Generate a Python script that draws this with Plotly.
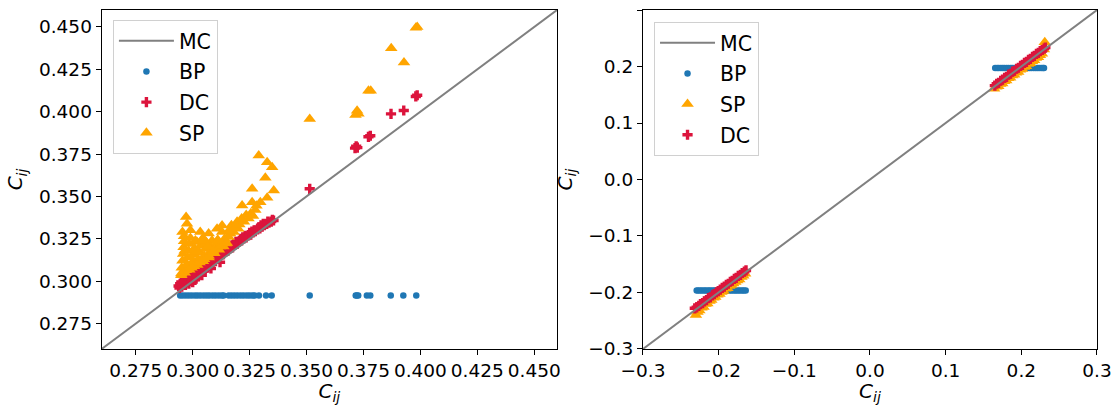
import plotly.graph_objects as go

# ---------------- left panel: BP / DC / SP against MC ----------------
mc_left = [0.26, 0.46]

bp_left_x = [0.2945, 0.2957, 0.2970, 0.2983, 0.2996, 0.3010, 0.3022, 0.3035, 0.3049,
             0.3062, 0.3074, 0.3088, 0.3101, 0.3115, 0.3128, 0.3136, 0.3158, 0.3171,
             0.3184, 0.3197, 0.3211, 0.3224, 0.3238, 0.3250, 0.3263, 0.3272, 0.3291,
             0.3322, 0.3347, 0.3514, 0.3716, 0.3721, 0.3727, 0.3765, 0.3780, 0.3870,
             0.3925, 0.3982]
bp_left_y = [0.2915, 0.2915, 0.2915, 0.2915, 0.2915, 0.2915, 0.2915, 0.2915, 0.2915,
             0.2915, 0.2915, 0.2915, 0.2915, 0.2915, 0.2915, 0.2915, 0.2915, 0.2915,
             0.2915, 0.2915, 0.2915, 0.2915, 0.2915, 0.2915, 0.2915, 0.2915, 0.2915,
             0.2915, 0.2915, 0.2915, 0.2915, 0.2915, 0.2915, 0.2915, 0.2915, 0.2915,
             0.2915, 0.2915]

dc_left_x = [0.2938, 0.2945, 0.2952, 0.2960, 0.2968, 0.2975, 0.2983, 0.2992, 0.3000,
             0.3008, 0.3010, 0.3020, 0.3028, 0.3035, 0.3045, 0.3055, 0.3065, 0.3072,
             0.3080, 0.3090, 0.3100, 0.3110, 0.3118, 0.3125, 0.3135, 0.3145, 0.3155,
             0.3165, 0.3175, 0.3185, 0.3195, 0.3205, 0.3215, 0.3225, 0.3235, 0.3245,
             0.3255, 0.3265, 0.3275, 0.3285, 0.3295, 0.3305, 0.3315, 0.3325, 0.3335,
             0.3345, 0.3355,
             0.2942, 0.2950, 0.2965, 0.2980, 0.2995, 0.3015, 0.3040, 0.3060, 0.3085,
             0.3105, 0.3130, 0.3150, 0.3170, 0.3190, 0.3210, 0.3230, 0.3250, 0.3270,
             0.3290, 0.3310, 0.3330, 0.3350, 0.3040, 0.3080, 0.3120,
             0.3005, 0.3025, 0.3050, 0.3075, 0.3100, 0.3140, 0.3180, 0.3220, 0.3260,
             0.3300,
             0.3514, 0.3713, 0.3718, 0.3723, 0.3772, 0.3780, 0.3871,
             0.3927, 0.3980, 0.3986]
dc_left_y = [0.2972, 0.2985, 0.2968, 0.2990, 0.2978, 0.2996, 0.2985, 0.3003, 0.2995,
             0.3025, 0.3008, 0.3030, 0.3040, 0.3052, 0.3060, 0.3072, 0.3080, 0.3095,
             0.3100, 0.3115, 0.3118, 0.3135, 0.3140, 0.3158, 0.3160, 0.3175, 0.3180,
             0.3195, 0.3200, 0.3215, 0.3220, 0.3235, 0.3240, 0.3252, 0.3258, 0.3270,
             0.3275, 0.3288, 0.3295, 0.3305, 0.3312, 0.3322, 0.3330, 0.3338, 0.3345,
             0.3352, 0.3358,
             0.2960, 0.2995, 0.3002, 0.3012, 0.3015, 0.3042, 0.3068, 0.3090, 0.3125,
             0.3140, 0.3168, 0.3190, 0.3210, 0.3232, 0.3250, 0.3268, 0.3285, 0.3300,
             0.3318, 0.3338, 0.3352, 0.3362, 0.3035, 0.3075, 0.3112,
             0.3045, 0.3068, 0.3090, 0.3115, 0.3140, 0.3178, 0.3220, 0.3258, 0.3292,
             0.3330,
             0.3545, 0.3785, 0.3796, 0.3788, 0.3852, 0.3858, 0.3987,
             0.4007, 0.4090, 0.4097]

sp_left_x = [0.2971, 0.2975, 0.2955, 0.2962, 0.2990, 0.3019, 0.3033, 0.3045, 0.3070,
             0.3085, 0.3107, 0.3129, 0.3129, 0.3140, 0.3158,
             0.2950, 0.2952, 0.2955, 0.2958, 0.2960, 0.2962, 0.2970, 0.2975, 0.2978,
             0.2982, 0.2985, 0.2990, 0.2995, 0.3000, 0.3003, 0.3008, 0.3012, 0.3020,
             0.3025, 0.3030, 0.3035, 0.3045, 0.3050, 0.3055, 0.3060, 0.3070, 0.3075,
             0.3080, 0.3095, 0.3100, 0.3105, 0.3115, 0.3120, 0.3135, 0.3145,
             0.2950, 0.2965, 0.2985, 0.3005, 0.3030, 0.3050, 0.3070, 0.3090, 0.3110,
             0.3130, 0.2965, 0.2990, 0.3015, 0.3040, 0.3065, 0.3090, 0.3110, 0.3150,
             0.3165, 0.3180, 0.3200,
             0.3160, 0.3170, 0.3185, 0.3195, 0.3205, 0.3215, 0.3225, 0.3235, 0.3245,
             0.3255, 0.3265, 0.3275, 0.3280,
             0.3217, 0.3261, 0.3297, 0.3327, 0.3261, 0.3356, 0.3319, 0.3349, 0.3327,
             0.3290,
             0.3514, 0.3715, 0.3722, 0.3728, 0.3772, 0.3782, 0.3872, 0.3928, 0.3980,
             0.3986]
sp_left_y = [0.3378, 0.3339, 0.3290, 0.3265, 0.3300, 0.3231, 0.3290, 0.3255, 0.3281,
             0.3240, 0.3310, 0.3329, 0.3290, 0.3250, 0.3261,
             0.3045, 0.3080, 0.3120, 0.3160, 0.3200, 0.3235, 0.3065, 0.3100, 0.3140,
             0.3180, 0.3220, 0.3255, 0.3080, 0.3115, 0.3155, 0.3195, 0.3240, 0.3095,
             0.3130, 0.3170, 0.3210, 0.3118, 0.3150, 0.3190, 0.3230, 0.3140, 0.3170,
             0.3205, 0.3165, 0.3190, 0.3225, 0.3185, 0.3205, 0.3205, 0.3222,
             0.3035, 0.3050, 0.3068, 0.3088, 0.3110, 0.3130, 0.3150, 0.3170, 0.3190,
             0.3210, 0.3180, 0.3140, 0.3175, 0.3240, 0.3205, 0.3180, 0.3245, 0.3225,
             0.3280, 0.3290, 0.3310,
             0.3300, 0.3330, 0.3315, 0.3350, 0.3335, 0.3370, 0.3350, 0.3390, 0.3370,
             0.3400, 0.3385, 0.3420, 0.3445,
             0.3447, 0.3466, 0.3466, 0.3492, 0.3545, 0.3535, 0.3610, 0.3672, 0.3702,
             0.3741,
             0.3957, 0.3980, 0.4005, 0.3988, 0.4124, 0.4124, 0.4375, 0.4290, 0.4496,
             0.4500]

# ---------------- right panel: two clusters around +/-0.2 ----------------
mc_right = [-0.3, 0.3]

bp_right_x = [-0.2290, -0.2268, -0.2242, -0.2218, -0.2190, -0.2168, -0.2140, -0.2118,
              -0.2092, -0.2065, -0.2042, -0.2018, -0.1990, -0.1968, -0.1942, -0.1918,
              -0.1890, -0.1868, -0.1842, -0.1818, -0.1790, -0.1768, -0.1742, -0.1718,
              -0.1690, -0.1668, -0.1642,
              0.1655, 0.1680, 0.1702, 0.1730, 0.1755, 0.1778, 0.1805, 0.1830, 0.1858,
              0.1880, 0.1905, 0.1932, 0.1955, 0.1982, 0.2008, 0.2030, 0.2058, 0.2082,
              0.2108, 0.2132, 0.2160, 0.2185, 0.2210, 0.2235, 0.2262, 0.2285, 0.2300]
bp_right_y = [-0.1965, -0.1965, -0.1965, -0.1965, -0.1965, -0.1965, -0.1965, -0.1965,
              -0.1965, -0.1965, -0.1965, -0.1965, -0.1965, -0.1965, -0.1965, -0.1965,
              -0.1965, -0.1965, -0.1965, -0.1965, -0.1965, -0.1965, -0.1965, -0.1965,
              -0.1965, -0.1965, -0.1965,
              0.1973, 0.1973, 0.1973, 0.1973, 0.1973, 0.1973, 0.1973, 0.1973, 0.1973,
              0.1973, 0.1973, 0.1973, 0.1973, 0.1973, 0.1973, 0.1973, 0.1973, 0.1973,
              0.1973, 0.1973, 0.1973, 0.1973, 0.1973, 0.1973, 0.1973, 0.1973, 0.1973]

sp_right_x = [-0.2300, -0.2280, -0.2255, -0.2228, -0.2200, -0.2175, -0.2150, -0.2122,
              -0.2098, -0.2070, -0.2045, -0.2018, -0.1990, -0.1965, -0.1938, -0.1912,
              -0.1885, -0.1860, -0.1832, -0.1808, -0.1780, -0.1755, -0.1728, -0.1700,
              -0.1675, -0.1650,
              0.1640, 0.1668, 0.1695, 0.1720, 0.1748, 0.1772, 0.1800, 0.1825, 0.1852,
              0.1878, 0.1905, 0.1930, 0.1958, 0.1982, 0.2010, 0.2035, 0.2062, 0.2088,
              0.2115, 0.2140, 0.2168, 0.2192, 0.2220, 0.2245, 0.2272, 0.2298, 0.2310]
sp_right_y = [-0.2400, -0.2345, -0.2320, -0.2270, -0.2255, -0.2205, -0.2195, -0.2150,
              -0.2135, -0.2095, -0.2080, -0.2040, -0.2025, -0.1990, -0.1975, -0.1935,
              -0.1925, -0.1885, -0.1868, -0.1840, -0.1815, -0.1790, -0.1770, -0.1728,
              -0.1705, -0.1670,
              0.1605, 0.1640, 0.1652, 0.1690, 0.1700, 0.1738, 0.1752, 0.1790, 0.1800,
              0.1840, 0.1855, 0.1890, 0.1902, 0.1942, 0.1955, 0.1990, 0.2005, 0.2045,
              0.2058, 0.2095, 0.2110, 0.2150, 0.2165, 0.2200, 0.2225, 0.2300, 0.2430]

dc_right_x = [-0.2315, -0.2290, -0.2262, -0.2240, -0.2212, -0.2188, -0.2160, -0.2135,
              -0.2110, -0.2082, -0.2058, -0.2030, -0.2005, -0.1978, -0.1952, -0.1925,
              -0.1898, -0.1872, -0.1845, -0.1820, -0.1792, -0.1768, -0.1740, -0.1712,
              -0.1688, -0.1660, -0.1638,
              0.1650, 0.1675, 0.1700, 0.1728, 0.1752, 0.1780, 0.1805, 0.1832, 0.1858,
              0.1885, 0.1910, 0.1938, 0.1962, 0.1990, 0.2015, 0.2042, 0.2068, 0.2095,
              0.2120, 0.2148, 0.2172, 0.2200, 0.2225, 0.2250, 0.2278, 0.2302, 0.2318]
dc_right_y = [-0.2280, -0.2262, -0.2238, -0.2205, -0.2190, -0.2158, -0.2135, -0.2100,
              -0.2085, -0.2050, -0.2030, -0.1998, -0.1975, -0.1950, -0.1920, -0.1898,
              -0.1865, -0.1845, -0.1810, -0.1792, -0.1758, -0.1740, -0.1705, -0.1688,
              -0.1655, -0.1632, -0.1610,
              0.1662, 0.1695, 0.1710, 0.1748, 0.1768, 0.1800, 0.1818, 0.1855, 0.1872,
              0.1908, 0.1925, 0.1960, 0.1978, 0.2012, 0.2030, 0.2065, 0.2082, 0.2118,
              0.2135, 0.2170, 0.2188, 0.2222, 0.2240, 0.2272, 0.2292, 0.2318, 0.2335]

BLUE = "#1f77b4"
RED = "#dc143c"
ORANGE = "#ffa500"
GREY = "#808080"
FONT = "DejaVu Sans"

bp_marker = dict(symbol="circle", size=6.5, color=BLUE, line=dict(width=0))
dc_marker = dict(symbol="cross", size=8.5, color=RED, line=dict(width=0))
sp_marker = dict(symbol="triangle-up", size=11, color=ORANGE, line=dict(width=0))


def scatter(x, y, name, marker, axes, legend, rank):
    return go.Scatter(x=x, y=y, mode="markers", name=name, marker=marker,
                      xaxis=axes[0], yaxis=axes[1], legend=legend,
                      legendrank=rank, legendgroup=legend + name)


fig = go.Figure()

# left panel (legend order: MC, BP, DC, SP); diagonal drawn last so it sits on top
fig.add_trace(scatter(bp_left_x, bp_left_y, "BP", bp_marker, ("x", "y"), "legend", 2))
fig.add_trace(scatter(dc_left_x, dc_left_y, "DC", dc_marker, ("x", "y"), "legend", 3))
fig.add_trace(scatter(sp_left_x, sp_left_y, "SP", sp_marker, ("x", "y"), "legend", 4))
fig.add_trace(go.Scatter(x=mc_left, y=mc_left, mode="lines", name="MC",
                         line=dict(color=GREY, width=2), xaxis="x", yaxis="y",
                         legend="legend", legendrank=1, legendgroup="legendMC"))

# right panel (legend order: MC, BP, SP, DC)
fig.add_trace(scatter(bp_right_x, bp_right_y, "BP", bp_marker, ("x2", "y2"), "legend2", 2))
fig.add_trace(scatter(sp_right_x, sp_right_y, "SP", sp_marker, ("x2", "y2"), "legend2", 3))
fig.add_trace(scatter(dc_right_x, dc_right_y, "DC", dc_marker, ("x2", "y2"), "legend2", 4))
fig.add_trace(go.Scatter(x=mc_right, y=mc_right, mode="lines", name="MC",
                         line=dict(color=GREY, width=2), xaxis="x2", yaxis="y2",
                         legend="legend2", legendrank=1, legendgroup="legend2MC"))

TITLE = "<i>C</i><sub><i>ij</i></sub>"
tick_font = dict(family=FONT, size=18.5, color="black")
title_font = dict(family=FONT, size=20, color="black")
axis_common = dict(showline=True, linecolor="black", linewidth=1, mirror=True,
                   ticks="outside", ticklen=5, tickwidth=1, tickcolor="black",
                   showgrid=False, zeroline=False, tickfont=tick_font,
                   automargin=False)

legend_common = dict(font=dict(family=FONT, size=20.5, color="black"),
                     bgcolor="rgba(255,255,255,0.8)", bordercolor="#d0d0d0",
                     borderwidth=1, xanchor="left", yanchor="top",
                     itemwidth=55, traceorder="grouped", tracegroupgap=1)

fig.update_layout(
    width=1118, height=405,
    margin=dict(l=0, r=0, t=0, b=0),
    paper_bgcolor="white", plot_bgcolor="white",
    font=dict(family=FONT, size=18.5, color="black"),
    xaxis=dict(domain=[0.0909, 0.4982], range=[0.26, 0.46], tick0=0.275, dtick=0.025,
               tickformat=".3f", anchor="y",
               title=dict(text=TITLE, font=title_font, standoff=7),
               **axis_common),
    yaxis=dict(domain=[0.1383, 0.9753], range=[0.26, 0.46], tick0=0.275, dtick=0.025,
               tickformat=".3f", anchor="x",
               title=dict(text=TITLE, font=title_font, standoff=10),
               **axis_common),
    xaxis2=dict(domain=[0.5751, 0.9812], range=[-0.3, 0.3], tick0=-0.3, dtick=0.1,
                tickformat=".1f", anchor="y2",
                title=dict(text=TITLE, font=title_font, standoff=7),
                **axis_common),
    yaxis2=dict(domain=[0.1383, 0.9753], range=[-0.3, 0.3], tick0=-0.3, dtick=0.1,
                tickformat=".1f", anchor="x2",
                title=dict(text=TITLE, font=title_font, standoff=10),
                **axis_common),
    legend=dict(x=0.101, y=0.9506, **legend_common),
    legend2=dict(x=0.585, y=0.9457, **legend_common),
    showlegend=True,
)

fig.write_html("out.html")
